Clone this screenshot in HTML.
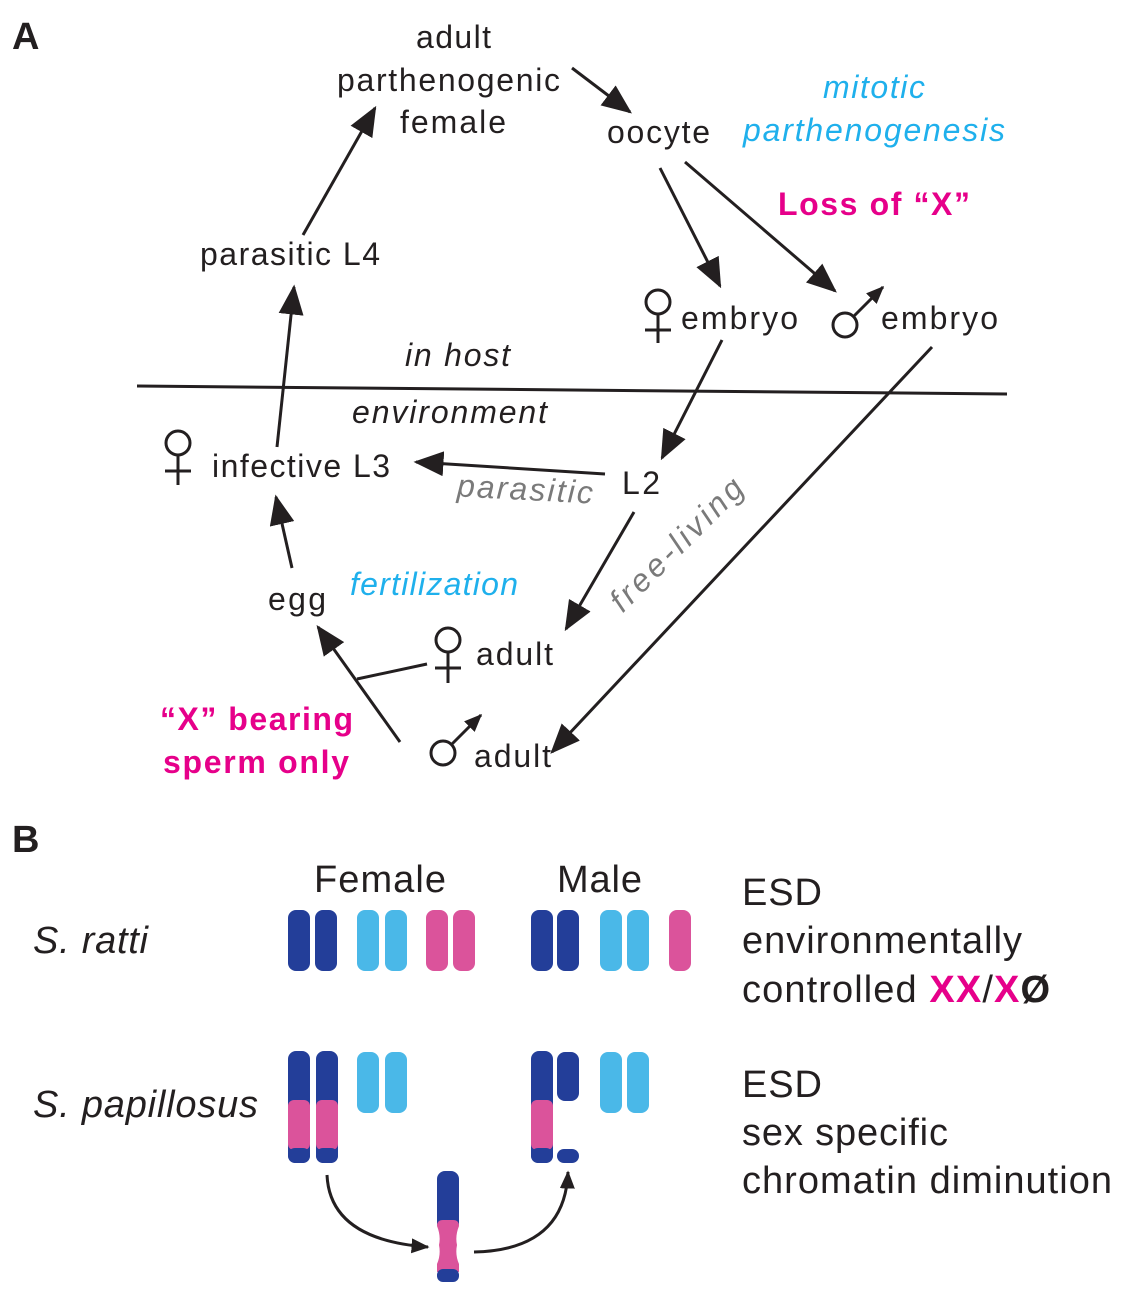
<!DOCTYPE html>
<html><head><meta charset="utf-8"><style>
body{margin:0;background:#fff}
svg text{font-family:"Liberation Sans",Arial,sans-serif}
</style></head><body>
<svg width="1126" height="1296" viewBox="0 0 1126 1296" xmlns="http://www.w3.org/2000/svg">
<defs>
<marker id="a" viewBox="0 0 12 10" refX="11" refY="5" markerWidth="30" markerHeight="25" markerUnits="userSpaceOnUse" orient="auto"><path d="M0,0 L12,5 L0,10 z" fill="#231f20"/></marker>
<marker id="s" viewBox="0 0 12 10" refX="11" refY="5" markerWidth="18" markerHeight="15" markerUnits="userSpaceOnUse" orient="auto"><path d="M0,0 L12,5 L0,10 z" fill="#231f20"/></marker>
</defs>
<g font-size="32" fill="#231f20" lengthAdjust="spacing">
<text x="12" y="49" font-weight="bold" font-size="38">A</text>
<text x="416" y="48" textLength="75">adult</text>
<text x="337" y="91" textLength="223">parthenogenic</text>
<text x="400" y="133" textLength="106">female</text>
<text x="607" y="143" textLength="103">oocyte</text>
<text x="823" y="98" textLength="102" font-style="italic" fill="#1fb0ec">mitotic</text>
<text x="743" y="141" textLength="262" font-style="italic" fill="#1fb0ec">parthenogenesis</text>
<text x="778" y="215" textLength="192" font-weight="bold" fill="#e6008a">Loss of “X”</text>
<text x="200" y="265" textLength="180">parasitic L4</text>
<text x="681" y="329" textLength="117">embryo</text>
<text x="881" y="329" textLength="117">embryo</text>
<text x="405" y="366" textLength="105" font-style="italic">in host</text>
<text x="352" y="423" textLength="195" font-style="italic">environment</text>
<text x="212" y="477" textLength="178">infective L3</text>
<text x="457" y="500" textLength="136" font-style="italic" fill="#7a7a7a" transform="rotate(3 525 490)">parasitic</text>
<text x="622" y="494" textLength="38">L2</text>
<text x="590" y="555" textLength="174" font-style="italic" fill="#7a7a7a" transform="rotate(-45 677 545)">free-living</text>
<text x="350" y="595" textLength="168" font-style="italic" fill="#1fb0ec">fertilization</text>
<text x="268" y="610" textLength="58">egg</text>
<text x="476" y="665" textLength="77">adult</text>
<text x="474" y="767" textLength="77">adult</text>
<text x="160" y="730" textLength="193" font-weight="bold" fill="#e6008a">“X” bearing</text>
<text x="163" y="773" textLength="186" font-weight="bold" fill="#e6008a">sperm only</text>
</g>
<g stroke="#231f20" stroke-width="3" fill="none">
<line x1="137" y1="386" x2="1007" y2="394"/>
<circle cx="658" cy="302" r="12"/><line x1="658" y1="314" x2="658" y2="343"/><line x1="645" y1="330" x2="671" y2="330"/>
<circle cx="178" cy="443" r="12"/><line x1="178" y1="455" x2="178" y2="485"/><line x1="165" y1="471" x2="191" y2="471"/>
<circle cx="448" cy="640" r="12"/><line x1="448" y1="652" x2="448" y2="683"/><line x1="435" y1="668" x2="461" y2="668"/>
<circle cx="845" cy="325" r="12"/><line x1="854" y1="316" x2="883" y2="287" marker-end="url(#s)"/>
<circle cx="443" cy="753" r="12"/><line x1="452" y1="744" x2="481" y2="715" marker-end="url(#s)"/>
<line x1="572" y1="68" x2="630" y2="112" marker-end="url(#a)"/>
<line x1="660" y1="168" x2="720" y2="286" marker-end="url(#a)"/>
<line x1="685" y1="162" x2="835" y2="291" marker-end="url(#a)"/>
<line x1="303" y1="235" x2="375" y2="108" marker-end="url(#a)"/>
<line x1="277" y1="447" x2="294" y2="287" marker-end="url(#a)"/>
<line x1="722" y1="340" x2="662" y2="458" marker-end="url(#a)"/>
<line x1="605" y1="474" x2="416" y2="462" marker-end="url(#a)"/>
<line x1="932" y1="347" x2="552" y2="752" marker-end="url(#a)"/>
<line x1="634" y1="512" x2="566" y2="629" marker-end="url(#a)"/>
<line x1="292" y1="568" x2="276" y2="497" marker-end="url(#a)"/>
<line x1="400" y1="742" x2="318" y2="627" marker-end="url(#a)"/>
<line x1="427" y1="664" x2="357" y2="679"/>
</g>
<g font-size="38" fill="#231f20" lengthAdjust="spacing">
<text x="12" y="852" font-weight="bold" font-size="38">B</text>
<text x="314" y="892" textLength="132">Female</text>
<text x="557" y="892" textLength="85">Male</text>
<text x="33" y="953" textLength="115" font-style="italic">S. ratti</text>
<text x="33" y="1117" textLength="225" font-style="italic">S. papillosus</text>
<text x="742" y="905" textLength="80">ESD</text>
<text x="742" y="953" textLength="280">environmentally</text>
<text x="742" y="1002" textLength="308">controlled <tspan fill="#e6008a" font-weight="bold">XX</tspan>/<tspan fill="#e6008a" font-weight="bold">X</tspan><tspan font-weight="bold">Ø</tspan></text>
<text x="742" y="1097" textLength="80">ESD</text>
<text x="742" y="1145" textLength="206">sex specific</text>
<text x="742" y="1193" textLength="370">chromatin diminution</text>
</g>
<g>
<rect x="288" y="910" width="22" height="61" rx="8" fill="#233e99"/>
<rect x="315" y="910" width="22" height="61" rx="8" fill="#233e99"/>
<rect x="357" y="910" width="22" height="61" rx="8" fill="#4ab8e8"/>
<rect x="385" y="910" width="22" height="61" rx="8" fill="#4ab8e8"/>
<rect x="426" y="910" width="22" height="61" rx="8" fill="#db539b"/>
<rect x="453" y="910" width="22" height="61" rx="8" fill="#db539b"/>
<rect x="531" y="910" width="22" height="61" rx="8" fill="#233e99"/>
<rect x="557" y="910" width="22" height="61" rx="8" fill="#233e99"/>
<rect x="600" y="910" width="22" height="61" rx="8" fill="#4ab8e8"/>
<rect x="627" y="910" width="22" height="61" rx="8" fill="#4ab8e8"/>
<rect x="669" y="910" width="22" height="61" rx="8" fill="#db539b"/>
<rect x="288" y="1051" width="22" height="112" rx="8" fill="#233e99"/>
<rect x="288" y="1100" width="22" height="50" rx="6" fill="#db539b"/>
<rect x="288" y="1148" width="22" height="15" rx="7" fill="#233e99"/>
<rect x="316" y="1051" width="22" height="112" rx="8" fill="#233e99"/>
<rect x="316" y="1100" width="22" height="50" rx="6" fill="#db539b"/>
<rect x="316" y="1148" width="22" height="15" rx="7" fill="#233e99"/>
<rect x="357" y="1052" width="22" height="61" rx="8" fill="#4ab8e8"/>
<rect x="385" y="1052" width="22" height="61" rx="8" fill="#4ab8e8"/>
<rect x="531" y="1051" width="22" height="112" rx="8" fill="#233e99"/>
<rect x="531" y="1100" width="22" height="50" rx="6" fill="#db539b"/>
<rect x="531" y="1148" width="22" height="15" rx="7" fill="#233e99"/>
<rect x="557" y="1052" width="22" height="49" rx="8" fill="#233e99"/>
<rect x="557" y="1149" width="22" height="14" rx="7" fill="#233e99"/>
<rect x="600" y="1052" width="22" height="61" rx="8" fill="#4ab8e8"/>
<rect x="627" y="1052" width="22" height="61" rx="8" fill="#4ab8e8"/>
<rect x="437" y="1171" width="22" height="60" rx="8" fill="#233e99"/>
<path d="M437,1226 Q437,1220 443,1220 L453,1220 Q459,1220 459,1226 Q455,1236 457,1245 Q455,1255 459,1264 L459,1272 L437,1272 L437,1264 Q441,1255 439,1245 Q441,1236 437,1226 z" fill="#db539b"/>
<rect x="437" y="1269" width="22" height="13" rx="6" fill="#233e99"/>
</g>
<g stroke="#231f20" stroke-width="3" fill="none">
<path d="M327,1175 Q330,1240 428,1247" marker-end="url(#s)"/>
<path d="M474,1252 Q565,1250 568,1172" marker-end="url(#s)"/>
</g>
</svg>
</body></html>
